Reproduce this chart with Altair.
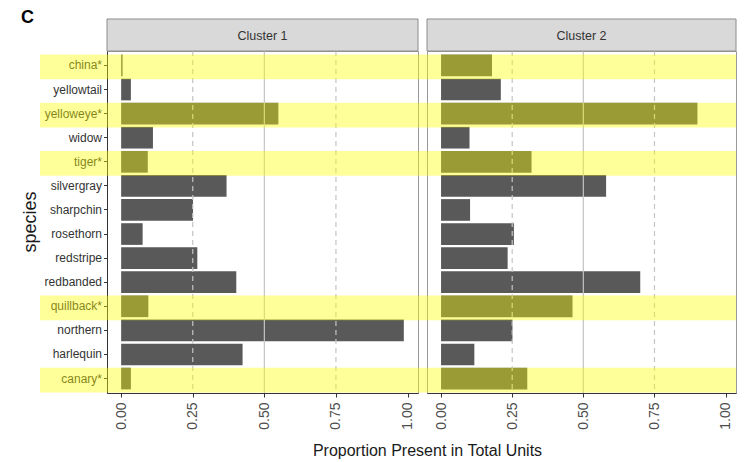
import altair as alt
import pandas as pd

species = ["china*", "yellowtail", "yelloweye*", "widow", "tiger*", "silvergray",
           "sharpchin", "rosethorn", "redstripe", "redbanded", "quillback*",
           "northern", "harlequin", "canary*"]
cluster1 = [0.005, 0.034, 0.549, 0.111, 0.093, 0.368, 0.251, 0.075, 0.266,
            0.402, 0.095, 0.987, 0.424, 0.034]
cluster2 = [0.179, 0.210, 0.901, 0.100, 0.318, 0.580, 0.102, 0.256, 0.234,
            0.700, 0.462, 0.251, 0.117, 0.303]
highlighted = ["china*", "yelloweye*", "tiger*", "quillback*", "canary*"]
panel_titles = ["Cluster 1", "Cluster 2"]
tick_values = [0, 0.25, 0.5, 0.75, 1.0]
dashed_grid = [0.25, 0.75]
solid_grid = [0.5]

W1, W2, H, GAP = 311, 309, 342, 9
FONT = "Liberation Sans, Arial"

xscale = alt.Scale(domain=[-0.0494, 1.0365], nice=False, zero=False)
yscale = alt.Scale(domain=species, paddingInner=0.1, paddingOuter=0.15)


def panel(values, title, W, first):
    df = pd.DataFrame({"species": species, "value": values})
    hl = pd.DataFrame({"species": highlighted})
    xaxis = alt.Axis(title=None, values=tick_values, format=".2f", labelAngle=270,
                     labelAlign="right", labelBaseline="middle", labelFont=FONT,
                     labelFontSize=14, labelColor="#4d4d4d", tickColor="#333",
                     tickSize=4, labelPadding=5, domainColor="#333", grid=False,
                     labelFlush=False, labelOverlap=False)
    if first:
        yaxis = alt.Axis(title=None, labelFont=FONT, labelFontSize=12,
                         labelColor="#333", tickColor="#333", tickSize=3.5,
                         labelPadding=2, domainColor="#333", grid=False)
    else:
        yaxis = None

    def X(f):
        return alt.X(f, type="quantitative", scale=xscale, axis=xaxis)

    def Y(f):
        return alt.Y(f, type="nominal", scale=yscale, axis=yaxis, sort=species)

    bars = alt.Chart(df).mark_bar(color="#595959").encode(x=X("value"), y=Y("species"))
    gd = alt.Chart(pd.DataFrame({"g": dashed_grid})).mark_rule(
        color="#c4c4c4", strokeDash=[5, 4], strokeWidth=1.2).encode(x=X("g"))
    gs = alt.Chart(pd.DataFrame({"g": solid_grid})).mark_rule(
        color="#c4c4c4", strokeWidth=1.2).encode(x=X("g"))
    x0 = -67 if first else 0
    x1 = W + GAP if first else W
    yellow = alt.Chart(hl).mark_bar(color="#ffff00", opacity=0.4, yOffset=1.5,
                                    height=alt.RelativeBandSize(1.14)).encode(
        x=alt.value(x0), x2=alt.value(x1), y=Y("species"))
    one = pd.DataFrame({"t": [title]})
    strip = alt.Chart(one).mark_rect(fill="#d9d9d9", stroke="#8c8c8c", strokeWidth=1).encode(
        x=alt.value(0), x2=alt.value(W), y=alt.value(-32), y2=alt.value(0))
    strip_text = alt.Chart(one).mark_text(font=FONT, fontSize=12.5, color="#333",
                                          baseline="middle", align="center").encode(
        text="t:N", x=alt.value(W / 2), y=alt.value(-15.5))
    layers = [bars, gd, gs, yellow, strip, strip_text]
    if first:
        letter = alt.Chart(pd.DataFrame({"t": ["C"]})).mark_text(
            font=FONT, fontSize=18, fontWeight="bold", color="#000",
            align="left", baseline="top").encode(
            text="t:N", x=alt.value(-86), y=alt.value(-42))
        ytitle = alt.Chart(pd.DataFrame({"t": ["species"]})).mark_text(
            font=FONT, fontSize=18, color="#1a1a1a", angle=270,
            align="center", baseline="middle").encode(
            text="t:N", x=alt.value(-76), y=alt.value(171))
        xtitle = alt.Chart(pd.DataFrame({"t": ["Proportion Present in Total Units"]})).mark_text(
            font=FONT, fontSize=16, color="#1a1a1a", align="center",
            baseline="alphabetic").encode(
            text="t:N", x=alt.value(320.5), y=alt.value(405))
        layers += [letter, ytitle, xtitle]
    return alt.layer(*layers).properties(width=W, height=H)


chart = alt.hconcat(
    panel(cluster1, panel_titles[0], W1, True),
    panel(cluster2, panel_titles[1], W2, False),
    spacing=GAP, bounds="flush",
).properties(
    padding={"left": 12, "top": 0, "right": 0, "bottom": 0},
    background="white",
).configure_view(stroke="#999999", strokeWidth=1)

chart.save("out.html", embed_options={"renderer": "svg", "actions": False})
